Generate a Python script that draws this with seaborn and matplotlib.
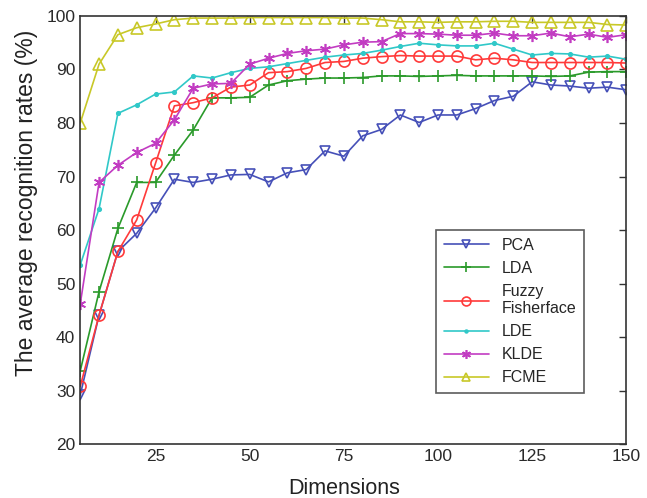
import numpy as np
import pandas as pd
import matplotlib
matplotlib.use("Agg")
import matplotlib.pyplot as plt
import seaborn as sns

dims = list(range(5, 151, 5))

pca = [29.2, 44.1, 56.0, 59.4, 64.1, 69.5, 68.9, 69.5, 70.3, 70.4,
       69.0, 70.7, 71.3, 74.8, 73.8, 77.6, 78.8, 81.5, 80.1, 81.5,
       81.5, 82.7, 84.2, 85.0, 87.7, 87.1, 86.9, 86.5, 86.7, 86.2]
lda = [33.7, 48.5, 60.3, 68.9, 68.9, 74.0, 78.7, 84.7, 84.7, 84.8,
       87.1, 87.9, 88.2, 88.4, 88.4, 88.5, 88.8, 88.8, 88.7, 88.8,
       88.9, 88.8, 88.8, 88.8, 88.8, 88.7, 88.8, 89.5, 89.6, 89.6]
fuzzy = [30.8, 44.1, 56.0, 61.9, 72.5, 83.2, 83.8, 84.7, 86.7, 87.1,
         89.4, 89.6, 90.2, 91.3, 91.5, 92.1, 92.4, 92.6, 92.5, 92.5,
         92.5, 91.8, 92.1, 91.8, 91.3, 91.3, 91.3, 91.3, 91.3, 91.2]
lde = [53.5, 64.0, 81.8, 83.4, 85.4, 85.8, 88.8, 88.4, 89.4, 90.2,
       90.5, 91.1, 91.7, 92.3, 92.7, 93.0, 93.6, 94.3, 94.9, 94.6,
       94.4, 94.4, 94.9, 93.8, 92.7, 93.0, 92.9, 92.3, 92.5, 91.9]
klde = [46.2, 68.9, 72.1, 74.5, 76.2, 80.6, 86.5, 87.3, 87.4, 91.0,
        92.1, 93.0, 93.5, 93.8, 94.6, 95.1, 95.2, 96.7, 96.7, 96.6,
        96.4, 96.4, 96.8, 96.3, 96.3, 96.8, 96.1, 96.6, 96.0, 96.5]
fcme = [80.0, 91.0, 96.5, 97.8, 98.5, 99.3, 99.6, 99.6, 99.6, 99.7,
        99.7, 99.7, 99.7, 99.7, 99.6, 99.6, 99.3, 98.9, 98.9, 98.8,
        98.9, 98.9, 99.0, 99.0, 98.8, 98.8, 98.8, 98.8, 98.4, 98.3]

methods = ["PCA", "LDA", "Fuzzy\nFisherface", "LDE", "KLDE", "FCME"]
series = [pca, lda, fuzzy, lde, klde, fcme]

rows = []
for m, s in zip(methods, series):
    for d, v in zip(dims, s):
        rows.append({"Dimensions": d, "rate": v, "method": m})
df = pd.DataFrame(rows)

sns.set_theme(style="white")
plt.rcParams['font.family'] = ['Liberation Sans', 'DejaVu Sans']

colors = ["#4650b8", "#2a9a2a", "#ff3a3a", "#30c8c8", "#c23cc2", "#c8c828"]
asterisk = (6, 2, 0)
markers = ["v", "+", "o", ".", asterisk, "^"]
msizes = [7.5, 9, 8, 5, 8, 8]

fig = plt.figure(figsize=(6.47, 4.98), dpi=100)
ax = fig.add_axes([0.124, 0.108, 0.844, 0.860])

for m, c, mk, ms in zip(methods, colors, markers, msizes):
    sub = df[df["method"] == m]
    sns.lineplot(data=sub, x="Dimensions", y="rate", ax=ax, color=c,
                 marker=mk, markersize=ms, markerfacecolor="none" if mk in ("v", "o", "^") else c,
                 markeredgecolor=c, markeredgewidth=1.2, linewidth=1.2, label=m)

ax.set_xlim(5, 150)
ax.set_ylim(20, 100)
ax.set_xticks([25, 50, 75, 100, 125, 150])
ax.set_yticks(list(range(20, 101, 10)))
ax.tick_params(direction="in", length=5, width=1, colors="#333333",
               labelsize=12.5, top=True, right=True, labelcolor="#2a2a2a")
for sp in ax.spines.values():
    sp.set_color("#333333")
    sp.set_linewidth(1.2)

ax.set_xlabel("Dimensions", fontsize=15.5, color="#222222")
ax.set_ylabel("The average recognition rates (%)", fontsize=16.5, color="#222222")
ax.xaxis.set_label_coords(0.483, -0.078)
ax.yaxis.set_label_coords(-0.078, 0.563)

leg = ax.legend(loc="lower left", bbox_to_anchor=(0.637, 0.100), frameon=True,
                fancybox=False, edgecolor="#333333", fontsize=11.5,
                handlelength=2.8, borderpad=0.5, labelspacing=0.5, markerscale=0.8)
leg.get_frame().set_linewidth(1.2)

fig.savefig("out.png", dpi=100)
